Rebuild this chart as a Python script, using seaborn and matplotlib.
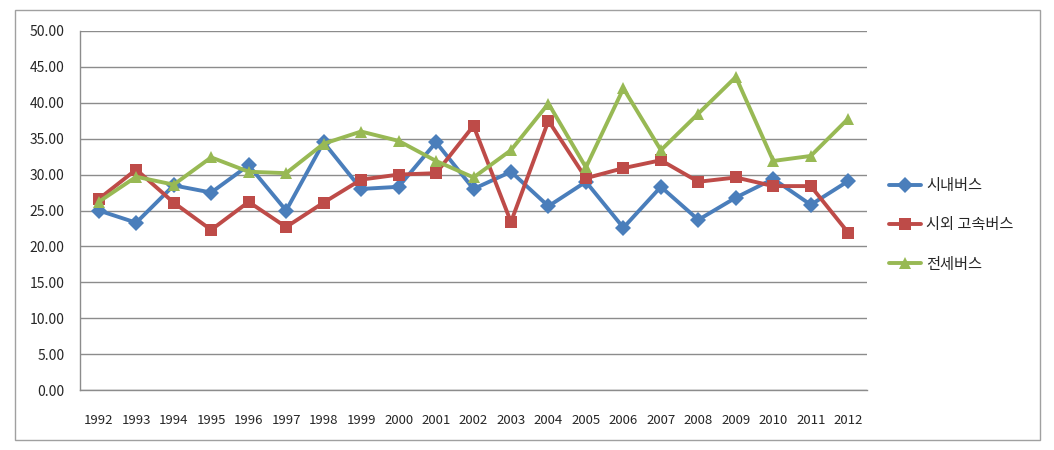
import numpy as np
import pandas as pd
import matplotlib
matplotlib.use("Agg")
import matplotlib.pyplot as plt
import seaborn as sns
from matplotlib.patches import Rectangle

years = [str(y) for y in range(1992, 2013)]
city_bus = [25.0, 23.3, 28.5, 27.5, 31.3, 25.0, 34.5, 28.0, 28.3, 34.5, 28.0,
            30.4, 25.6, 29.0, 22.6, 28.3, 23.7, 26.8, 29.4, 25.8, 29.1]
intercity_bus = [26.6, 30.7, 26.1, 22.3, 26.2, 22.7, 26.1, 29.3, 30.0, 30.2, 36.8,
                 23.4, 37.5, 29.5, 30.9, 32.0, 29.0, 29.6, 28.4, 28.4, 21.9]
charter_bus = [26.2, 29.7, 28.6, 32.4, 30.4, 30.2, 34.3, 36.0, 34.7, 31.9, 29.6,
               33.4, 39.9, 31.0, 42.0, 33.4, 38.5, 43.6, 31.9, 32.6, 37.8]
series_names = ["시내버스", "시외 고속버스", "전세버스"]
y_ticks = [0, 5, 10, 15, 20, 25, 30, 35, 40, 45, 50]

sns.set_style("white")
plt.rcParams['font.family'] = ['Noto Sans CJK KR', 'DejaVu Sans']

df = pd.DataFrame({
    "year": years * 3,
    "x": list(range(len(years))) * 3,
    "value": city_bus + intercity_bus + charter_bus,
    "series": [series_names[0]] * 21 + [series_names[1]] * 21 + [series_names[2]] * 21,
})

colors = {series_names[0]: "#4A7EBB", series_names[1]: "#BE4B48", series_names[2]: "#98B954"}
markers = {series_names[0]: "D", series_names[1]: "s", series_names[2]: "^"}

fig = plt.figure(figsize=(10.54, 4.5), dpi=100)
ax = fig.add_axes([80 / 1054, 1 - 390 / 450, (867 - 80) / 1054, (390 - 31) / 450])

sns.lineplot(data=df, x="x", y="value", hue="series", style="series",
             palette=colors, markers=markers, dashes=False, linewidth=2.8,
             markersize=8.5, markeredgewidth=0, ax=ax, legend=True)

ax.set_xlim(-0.5, 20.5)
ax.set_ylim(0, 50)
ax.set_yticks(y_ticks)
ax.set_yticklabels([f"{v:.2f}" for v in y_ticks], fontsize=10)
ax.yaxis.grid(True, color="#8c8c8c", linewidth=1.0)
ax.set_axisbelow(True)
ax.set_xticks(range(len(years)))
ax.set_xticklabels(years, fontsize=9.5)
ax.set_xticks(np.arange(-0.5, 21, 1), minor=True)
ax.tick_params(axis="x", which="major", length=0, pad=17)
ax.tick_params(axis="x", which="minor", length=5, color="#8c8c8c", direction="out")
ax.tick_params(axis="y", length=5, color="#8c8c8c", direction="out", pad=6)
ax.set_xlabel("")
ax.set_ylabel("")
for s in ["top", "right"]:
    ax.spines[s].set_visible(False)
for s in ["left", "bottom"]:
    ax.spines[s].set_color("#8c8c8c")
    ax.spines[s].set_linewidth(1.0)

handles, labels = ax.get_legend_handles_labels()
ax.get_legend().remove()
leg = fig.legend(handles, labels, loc="center left", bbox_to_anchor=(0.830, 0.5),
                 frameon=False, fontsize=11, handlelength=2.1, labelspacing=1.45,
                 handletextpad=0.35)

fig.patches.append(Rectangle((15 / 1054, 10 / 450), 1025 / 1054, 430 / 450,
                             transform=fig.transFigure, fill=False,
                             edgecolor="#a0a0a0", linewidth=1.0))

fig.savefig("out.png", dpi=100)
